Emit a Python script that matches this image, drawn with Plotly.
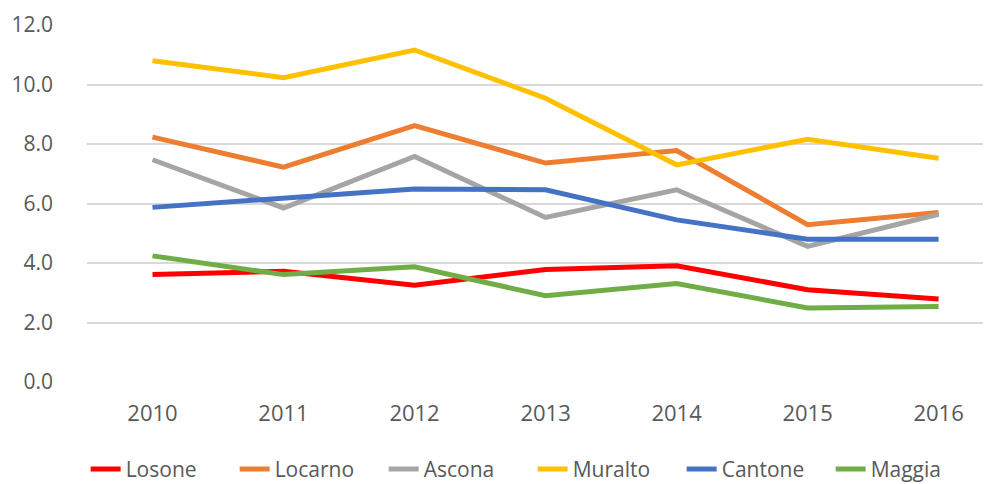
import plotly.graph_objects as go

years = ["2010", "2011", "2012", "2013", "2014", "2015", "2016"]
losone = [3.61, 3.72, 3.25, 3.78, 3.91, 3.10, 2.79]
locarno = [8.23, 7.22, 8.62, 7.36, 7.78, 5.29, 5.70]
ascona = [7.47, 5.85, 7.58, 5.53, 6.46, 4.56, 5.64]
muralto = [10.80, 10.23, 11.16, 9.54, 7.30, 8.16, 7.52]
cantone = [5.87, 6.18, 6.49, 6.46, 5.45, 4.80, 4.80]
maggia = [4.24, 3.61, 3.87, 2.90, 3.31, 2.49, 2.54]

series = [
    ("Losone", losone, "#FF0000"),
    ("Locarno", locarno, "#ED7D31"),
    ("Ascona", ascona, "#A5A5A5"),
    ("Muralto", muralto, "#FFC000"),
    ("Cantone", cantone, "#4472C4"),
    ("Maggia", maggia, "#70AD47"),
]

fig = go.Figure()
for name, vals, col in series:
    fig.add_trace(go.Scatter(x=list(range(len(years))), y=vals, name=name, mode="lines",
                             line=dict(color=col, width=5)))

fig.update_layout(
    width=983, height=476,
    margin=dict(l=79, r=0, t=17, b=101.5, autoexpand=False),
    paper_bgcolor="white", plot_bgcolor="white",
    font=dict(family="Open Sans", size=21, color="#595959"),
    showlegend=True,
    legend=dict(orientation="h", xref="container", x=0.079, xanchor="left",
                y=-0.245, yanchor="middle",
                font=dict(size=21, color="#595959"), entrywidth=104, entrywidthmode="pixels",
                tracegroupgap=0),
    xaxis=dict(range=[-0.5, 6.4], tickmode="array", tickvals=list(range(len(years))),
               ticktext=years, showgrid=False, zeroline=False, showline=False,
               ticklabelstandoff=16, automargin=False, tickfont=dict(size=22)),
    yaxis=dict(range=[0, 12], dtick=2, tickformat=".1f", showgrid=True,
               gridcolor="#D9D9D9", gridwidth=1.5, zeroline=False, showline=False,
               ticklabelstandoff=33, automargin=False, tickfont=dict(size=21)),
)
fig.write_html("out.html")
